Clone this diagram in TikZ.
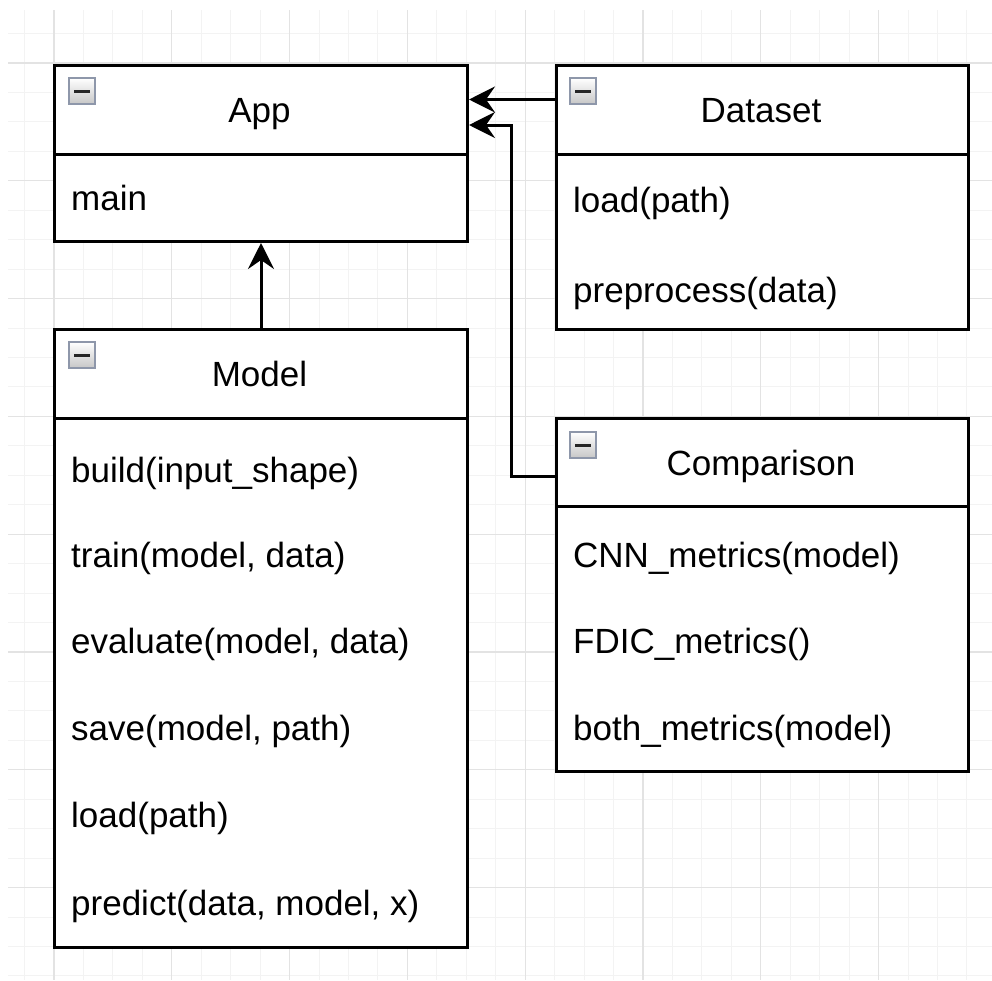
\documentclass[tikz,border=0pt]{standalone}
\usepackage{fontspec}
\setmainfont{Liberation Sans}
\usetikzlibrary{arrows.meta}
\definecolor{minorgrid}{HTML}{F3F3F3}
\definecolor{majorgrid}{HTML}{E3E3E3}
\definecolor{iconborder}{HTML}{8E97AA}
\begin{document}
\begin{tikzpicture}[x=1pt,y=-1pt,
  minorline/.style={draw=minorgrid,line width=1pt},
  majorline/.style={draw=majorgrid,line width=1.3pt},
  part/.style={draw=black,line width=3pt,fill=white,anchor=north west,inner sep=0pt,minimum width=413pt},
  title/.style={anchor=base,font=\fontsize{35}{42}\selectfont,inner sep=0pt},
  member/.style={anchor=base west,font=\fontsize{35}{42}\selectfont,inner sep=0pt},
  icon/.style={anchor=north west,draw=iconborder,line width=2pt,top color=white,bottom color=black!22,minimum size=26pt,inner sep=0pt,
     path picture={\draw[line width=3pt,black!85] ([xshift=5pt]path picture bounding box.west) -- ([xshift=-5pt]path picture bounding box.east);}},
  conn/.style={line width=3pt,-{Stealth[length=26pt,width=26pt,inset=9pt]}}
]
\useasboundingbox (0,0) rectangle (992,980);
\fill[white] (0,0) rectangle (992,980);
\begin{scope}
\clip (8,10) rectangle (992,980);
\foreach \i in {-1,...,32} {
  \draw[minorline] ({54+\i*29.45},10) -- ({54+\i*29.45},980);
}
\foreach \j in {-1,...,31} {
  \draw[minorline] (8,{63+\j*29.45}) -- (992,{63+\j*29.45});
}
\foreach \i in {0,4,...,32} {
  \draw[majorline] ({54+\i*29.45},10) -- ({54+\i*29.45},980);
}
\foreach \j in {0,4,...,28} {
  \draw[majorline] (8,{63+\j*29.45}) -- (992,{63+\j*29.45});
}
\end{scope}

% App
\node[part,minimum height=89pt] (apphead) at (53,64) {};
\node[part,minimum height=87pt] (appbody) at (53,153) {};
\node[icon] (appicon) at (68,77) {};
\node[title] (apptitle) at (259.5,122) {App};
\node[member] (appm1) at (71,210) {main};

% Dataset
\node[part,minimum width=412pt,minimum height=89pt] (dshead) at (555,64) {};
\node[part,minimum width=412pt,minimum height=175pt] (dsbody) at (555,153) {};
\node[icon] (dsicon) at (569,77) {};
\node[title] (dstitle) at (761,122) {Dataset};
\node[member] (dsm1) at (573,212) {load(path)};
\node[member] (dsm2) at (573,302) {preprocess(data)};

% Model
\node[part,minimum height=89pt] (mdhead) at (53,328) {};
\node[part,minimum height=529pt] (mdbody) at (53,417) {};
\node[icon] (mdicon) at (68,341) {};
\node[title] (mdtitle) at (259.5,386) {Model};
\node[member] (mdm1) at (71,482) {build(input\_shape)};
\node[member] (mdm2) at (71,567) {train(model, data)};
\node[member] (mdm3) at (71,653) {evaluate(model, data)};
\node[member] (mdm4) at (71,740) {save(model, path)};
\node[member] (mdm5) at (71,827) {load(path)};
\node[member] (mdm6) at (71,915) {predict(data, model, x)};

% Comparison
\node[part,minimum width=412pt,minimum height=88pt] (cphead) at (555,417) {};
\node[part,minimum width=412pt,minimum height=265pt] (cpbody) at (555,505) {};
\node[icon] (cpicon) at (569,431) {};
\node[title] (cptitle) at (761,475) {Comparison};
\node[member] (cpm1) at (573,567) {CNN\_metrics(model)};
\node[member] (cpm2) at (573,653) {FDIC\_metrics()};
\node[member] (cpm3) at (573,740) {both\_metrics(model)};

% connectors
\draw[conn] ([yshift=10.5pt]dshead.west) -- ([yshift=10.5pt]dshead.west -| apphead.east);
\coordinate (bend) at (511,125);
\draw[conn] ([yshift=-14pt]cphead.west) -| (bend) -- (bend -| apphead.east);
\draw[conn] (mdhead.north) -- (appbody.south);
\end{tikzpicture}
\end{document}
